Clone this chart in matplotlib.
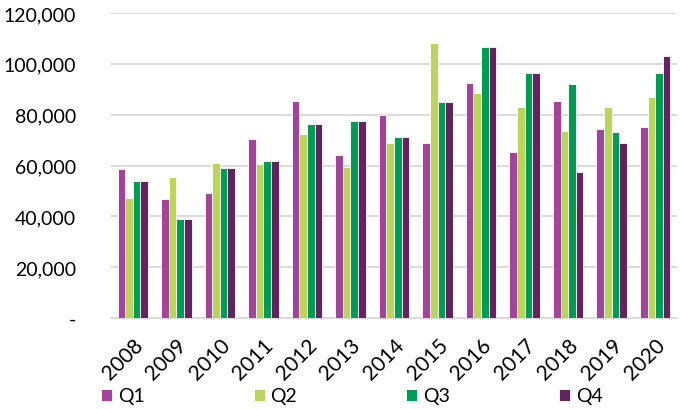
import numpy as np
import matplotlib; matplotlib.use("Agg")
import matplotlib.pyplot as plt
from matplotlib.ticker import FuncFormatter

years = ["2008", "2009", "2010", "2011", "2012", "2013", "2014",
         "2015", "2016", "2017", "2018", "2019", "2020"]
q1 = [58750, 46650, 49300, 70300, 85400, 64100, 80050, 69000, 92500, 65500, 85200, 74500, 75200]
q2 = [47200, 55300, 61100, 60500, 72200, 59600, 68900, 108300, 88600, 82900, 73500, 82900, 86800]
q3 = [53750, 39050, 59000, 61900, 76500, 77400, 71400, 84900, 106700, 96200, 91900, 73200, 96400]
q4 = [53750, 39050, 59000, 61900, 76500, 77400, 71400, 84900, 106700, 96200, 57300, 69000, 102900]
series = ["Q1", "Q2", "Q3", "Q4"]
colors = ["#A24497", "#BDD45C", "#009B55", "#61245E"]

plt.rcParams["font.family"] = ["Lato", "DejaVu Sans"]

fig = plt.figure(figsize=(6.86, 4.10), dpi=100)
ax = fig.add_axes([111 / 686, 1 - 319 / 410, 566 / 686, 305 / 410])

x = np.arange(len(years))
w = 0.175
for k, (vals, c) in enumerate(zip([q1, q2, q3, q4], colors)):
    ax.bar(x + (k - 1.5) * w, vals, w, color=c, edgecolor="white", linewidth=0.6,
           label=series[k], zorder=3)

ax.set_xlim(-0.5, len(years) - 0.5)
ax.set_ylim(0, 120000)
ax.set_yticks(np.arange(0, 120001, 20000))
ax.yaxis.set_major_formatter(FuncFormatter(lambda v, p: "-" if v == 0 else f"{v:,.0f}"))
ax.grid(axis="y", color="#D9D9D9", lw=1.3, zorder=0)
for s in ["top", "right", "left"]:
    ax.spines[s].set_visible(False)
ax.spines["bottom"].set_color("#D9D9D9")
ax.spines["bottom"].set_linewidth(1.3)
ax.tick_params(axis="both", length=0, colors="black")
ax.tick_params(axis="y", pad=25, labelsize=14)
ax.tick_params(axis="x", pad=12, labelsize=15)
ax.set_xticks(x)
ax.set_xticklabels(years, rotation=45, ha="right", rotation_mode="anchor")

ax.legend(loc="center left", bbox_to_anchor=(101 / 686, 1 - 397 / 410),
          bbox_transform=fig.transFigure, ncol=4, frameon=False,
          fontsize=14, handlelength=0.57, handleheight=0.57, handletextpad=0.3,
          columnspacing=5.6, borderaxespad=0, borderpad=0)

fig.savefig("out.png", dpi=100)
